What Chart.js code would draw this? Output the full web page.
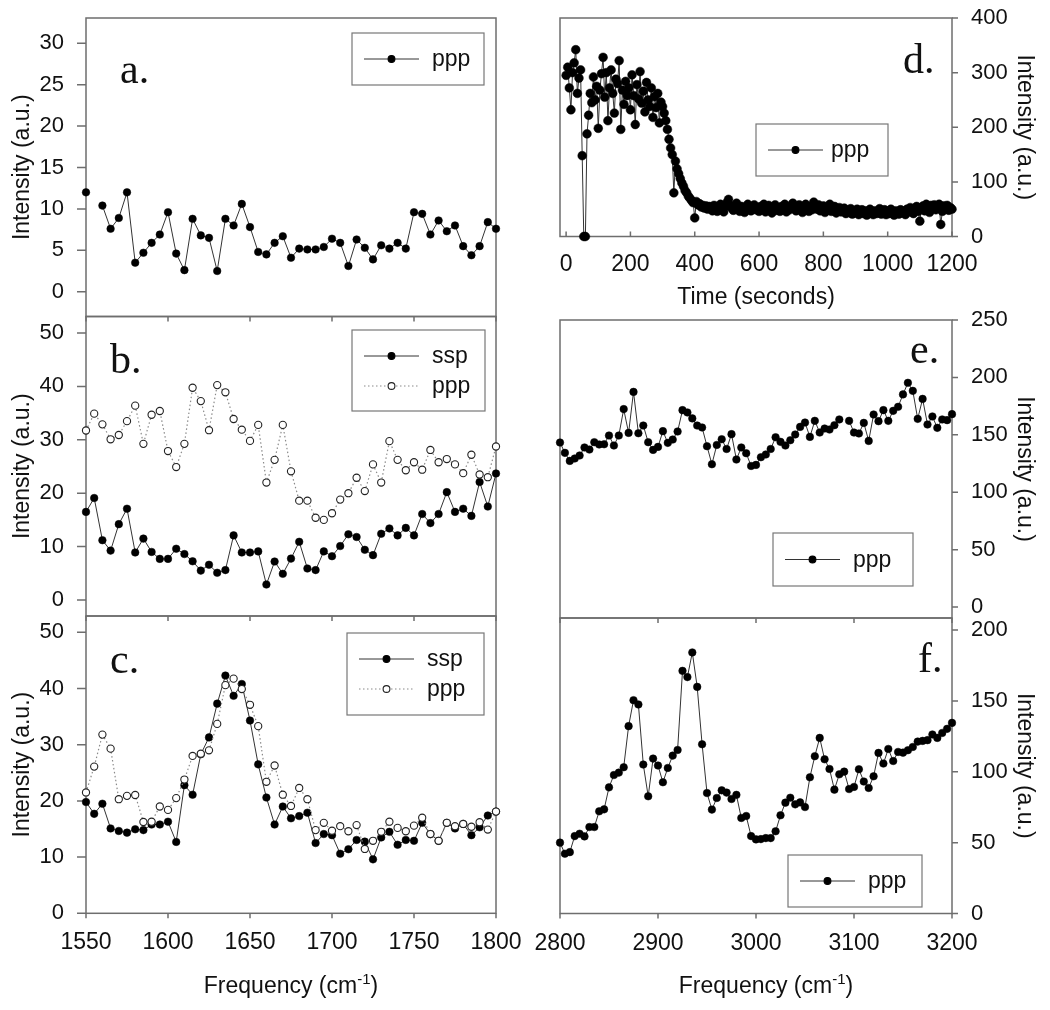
<!DOCTYPE html>
<html>
<head>
<title>SFG spectra and time trace</title>
<script src="https://cdn.jsdelivr.net/npm/chart.js"></script>
<style>
  body { margin: 0; background: #fff; }
  #wrap { position: relative; width: 1050px; height: 1010px; }
  canvas { position: absolute; }
</style>
</head>
<body>
<div id="wrap">
  <canvas id="pa" width="530" height="330" style="left:0;top:0"></canvas>
  <canvas id="pb" width="530" height="330" style="left:0;top:300px"></canvas>
  <canvas id="pc" width="530" height="410" style="left:0;top:600px"></canvas>
  <canvas id="pd" width="530" height="320" style="left:520px;top:0"></canvas>
  <canvas id="pe" width="530" height="330" style="left:520px;top:300px"></canvas>
  <canvas id="pf" width="530" height="410" style="left:520px;top:600px"></canvas>
</div>
<script>
// ---- data ----
const leftFreq = Array.from({ length: 51 }, (_, i) => 1550 + 5 * i);
const rightFreq = Array.from({ length: 81 }, (_, i) => 2800 + 5 * i);

const aPpp = [12.0, null, 10.4, 7.6, 8.9, 12.0, 3.5, 4.7, 5.9, 6.9,
  9.6, 4.6, 2.6, 8.8, 6.8, 6.5, 2.5, 8.8, 8.0, 10.6,
  7.8, 4.8, 4.5, 5.9, 6.7, 4.1, 5.2, 5.1, 5.1, 5.4,
  6.4, 5.9, 3.1, 6.3, 5.3, 3.9, 5.6, 5.2, 5.9, 5.2,
  9.6, 9.4, 6.9, 8.6, 7.3, 8.0, 5.5, 4.4, 5.5, 8.4,
  7.6];

const bSsp = [16.5, 19.1, 11.2, 9.25, 14.2, 17.1, 8.9, 11.5, 9.0, 7.7,
  7.7, 9.6, 8.6, 7.25, 5.5, 6.6, 5.1, 5.6, 12.1, 8.9,
  8.9, 9.1, 2.9, 7.2, 4.9, 7.75, 10.9, 5.9, 5.6, 9.1,
  8.2, 10.1, 12.3, 11.8, 9.4, 8.4, 12.4, 13.4, 12.1, 13.5,
  12.1, 16.1, 14.4, 16.1, 20.2, 16.5, 17.1, 15.75, 22.1, 17.5,
  23.7];
const bPpp = [31.75, 34.9, 32.9, 30.1, 30.9, 33.5, 36.4, 29.25, 34.7, 35.4,
  27.9, 24.9, 29.25, 39.75, 37.25, 31.8, 40.25, 38.9, 33.9, 31.9,
  29.8, 32.8, 22.0, 26.25, 32.8, 24.1, 18.6, 18.6, 15.4, 15.0,
  16.25, 18.8, 20.0, 22.9, 20.4, 25.4, 22.0, 29.75, 26.25, 24.3,
  25.8, 24.4, 28.1, 25.8, 26.4, 25.4, 23.75, 27.2, 23.5, 23.0,
  28.75];

const cSsp = [19.8, 17.7, 19.5, 15.1, 14.65, 14.35, 14.95, 14.8, 15.8, 15.8,
  16.3, 12.7, 22.8, 21.1, 28.3, 31.3, 37.3, 42.3, 38.7, 40.8,
  34.3, 26.5, 20.6, 15.8, 19.0, 16.9, 17.3, 17.9, 12.5, 14.1,
  13.9, 10.6, 11.4, 13.05, 12.75, 9.6, 13.5, 14.5, 12.2, 13.05,
  12.9, 16.1, 14.1, 12.9, 16.1, 15.1, 15.9, 13.9, 15.3, 17.4,
  18.1];
const cPpp = [21.5, 26.1, 31.8, 29.3, 20.3, 20.9, 21.05, 16.25, 16.3, 19.0,
  18.4, 20.5, 23.8, 28.0, 28.4, 29.0, 33.7, 40.6, 41.75, 39.9,
  37.1, 33.3, 23.4, 26.3, 21.1, 19.1, 22.3, 20.3, 14.8, 16.1,
  14.7, 15.5, 14.6, 15.7, 11.45, 12.9, 14.5, 16.3, 15.2, 14.6,
  15.6, 17.0, 14.1, 12.9, 16.1, 15.5, 15.9, 15.4, 16.2, 14.9,
  18.1];

// time trace, one reading every 5 s
const dPpp = [295, 310, 272, 232, 300, 318, 342, 262, 290, 305,
  148, 0, 0, 188, 222, 262, 245, 292, 250, 275,
  198, 268, 298, 328, 255, 300, 212, 272, 305, 262,
  226, 288, 280, 322, 196, 268, 242, 284, 258, 272,
  232, 296, 258, 205, 278, 252, 302, 244, 266, 228,
  282, 250, 238, 272, 218, 256, 236, 262, 208, 246,
  238, 226, 212, 196, 178, 162, 150, 80, 138, 124,
  115, 106, 98, 92, 84, 80, 74, 70, 66, 62,
  34, 64, 58, 60, 54, 57, 52, 56, 50, 55,
  53, 47, 57, 51, 46, 54, 59, 50, 45, 55,
  62, 68, 57, 52, 48, 56, 61, 51, 46, 55,
  53, 44, 50, 59, 54, 47, 52, 58, 49, 53,
  46, 55, 51, 59, 45, 52, 57, 50, 43, 53,
  58, 48, 52, 46, 55, 50, 59, 45, 53, 49,
  56, 61, 52, 47, 54, 58, 50, 44, 53, 59,
  51, 46, 55, 49, 63, 54, 50, 58, 47, 52,
  56, 44, 53, 49, 59, 46, 51, 55, 43, 50,
  53, 45, 49, 52, 42, 48, 44, 51, 41, 47,
  44, 50, 40, 46, 49, 42, 47, 39, 45, 50,
  44, 40, 47, 42, 46, 51, 41, 45, 49, 40,
  46, 42, 50, 44, 39, 47, 45, 41, 49, 44,
  46, 40, 50, 45, 53, 47, 42, 51, 55, 46,
  28, 51, 56, 47, 59, 52, 44, 57, 50, 58,
  49, 53, 59, 22, 46, 56, 51, 57, 48, 53,
  50];
const dTimes = dPpp.map((_, i) => 5 * i);

const ePpp = [143.3, 134.3, 127.3, 129.4, 132.0, 139.0, 137.2, 143.6, 141.6, 141.8,
  149.4, 140.7, 149.4, 172.4, 151.7, 187.4, 151.4, 158.1, 143.6, 136.9,
  139.5, 153.2, 143.0, 145.9, 152.9, 171.5, 169.5, 164.3, 158.1, 156.4,
  140.1, 124.4, 141.2, 146.2, 137.7, 150.6, 128.5, 139.0, 134.0, 122.9,
  123.8, 130.5, 132.9, 137.7, 147.9, 143.9, 140.7, 145.3, 150.3, 156.9,
  160.7, 148.2, 162.2, 152.0, 155.5, 154.6, 158.4, 163.4, null, 162.2,
  152.0, 151.2, 160.4, 144.7, 167.7, 161.9, 171.5, 162.2, 170.9, 174.4,
  185.2, 195.3, 188.3, 163.9, 181.3, 159.0, 166.0, 156.1, 163.4, 162.8,
  168.0];

const fPpp = [50.0, 42.2, 43.3, 54.6, 56.3, 54.4, 61.0, 61.0, 72.1, 73.5,
  89.0, 97.7, 99.4, 103.2, 132.2, 150.5, 147.5, 105.1, 82.7, 109.3,
  104.4, 92.6, 102.7, 111.4, 115.4, 171.2, 166.8, 184.2, 159.9, 119.4,
  85.0, 73.3, 81.5, 86.9, 85.3, 80.8, 83.7, 67.4, 68.8, 54.6,
  52.3, 52.5, 53.2, 53.2, 58.0, 69.3, 78.2, 81.7, 77.0, 78.4,
  75.1, 96.1, 111.0, 123.9, 108.8, 102.0, 87.4, 98.2, 100.1, 87.8,
  89.3, 101.8, 93.1, 88.6, 96.8, 113.3, 105.8, 116.1, 107.6, 114.0,
  113.5, 115.2, 117.5, 121.3, 121.8, 122.3, 126.3, 123.9, 127.4, 130.3,
  134.5];

// tick labels
const leftXTicks = [1550, 1600, 1650, 1700, 1750, 1800];
const rightXTicks = [2800, 2900, 3000, 3100, 3200];
const timeTicks = [0, 200, 400, 600, 800, 1000, 1200];
const aYTicks = [0, 5, 10, 15, 20, 25, 30];
const bYTicks = [0, 10, 20, 30, 40, 50];
const cYTicks = [0, 10, 20, 30, 40, 50];
const dYTicks = [0, 100, 200, 300, 400];
const eYTicks = [0, 50, 100, 150, 200, 250];
const fYTicks = [0, 50, 100, 150, 200];

// ---- drawing ----
Chart.defaults.font.family = 'Arial, "Liberation Sans", Helvetica, sans-serif';
Chart.defaults.color = '#111';
const FRAME = '#6e6e6e';
const freqTitle = [{ t: 'Frequency (cm' }, { t: '-1', sup: true }, { t: ')' }];

// frame, tick marks, panel letter, boxed legend, x title
const decor = {
  id: 'decor',
  beforeDatasetsDraw(chart, args, o) {
    const { ctx, chartArea: a } = chart;
    const xs = chart.scales.x, ys = chart.scales.y;
    ctx.save();
    ctx.strokeStyle = FRAME;
    ctx.lineWidth = 1.5;
    ctx.strokeRect(a.left, a.top, a.right - a.left, a.bottom - a.top);
    ctx.beginPath();
    o.xTicks.forEach(v => {
      const px = xs.getPixelForValue(v);
      ctx.moveTo(px, a.bottom);
      ctx.lineTo(px, a.bottom + o.xTickLen);
    });
    o.yTicks.forEach(v => {
      const py = ys.getPixelForValue(v);
      const x0 = o.side === 'left' ? a.left : a.right;
      ctx.moveTo(x0, py);
      ctx.lineTo(x0 + (o.side === 'left' ? -9 : 6), py);
    });
    ctx.stroke();
    ctx.restore();
  },
  afterDraw(chart, args, o) {
    const { ctx, chartArea: a } = chart;
    ctx.save();
    ctx.fillStyle = '#111';
    ctx.textAlign = 'left';
    ctx.textBaseline = 'alphabetic';
    ctx.font = '42px "Liberation Serif", "Times New Roman", serif';
    ctx.fillText(o.letter.text, o.letter.x, o.letter.y);

    const L = o.legend;
    ctx.strokeStyle = '#777';
    ctx.lineWidth = 1.2;
    ctx.strokeRect(L.x, L.y, L.w, L.h);
    ctx.font = '23px Arial, "Liberation Sans", sans-serif';
    ctx.textBaseline = 'middle';
    L.rows.forEach(r => {
      const ds = chart.data.datasets[r.ds];
      ctx.save();
      ctx.strokeStyle = ds.borderColor;
      ctx.lineWidth = ds.borderWidth;
      ctx.setLineDash(ds.borderDash || []);
      ctx.beginPath();
      ctx.moveTo(L.x + 12, r.y);
      ctx.lineTo(L.x + 67, r.y);
      ctx.stroke();
      ctx.setLineDash([]);
      ctx.beginPath();
      ctx.arc(L.x + 39.5, r.y, 3.4, 0, Math.PI * 2);
      ctx.fillStyle = ds.pointBackgroundColor;
      ctx.fill();
      ctx.strokeStyle = ds.pointBorderColor;
      ctx.lineWidth = 1.1;
      ctx.stroke();
      ctx.restore();
      ctx.fillText(ds.label, L.x + (L.textDx || 80), r.y + 1);
    });

    if (o.xTitle) {
      const big = '23px Arial, "Liberation Sans", sans-serif';
      const small = '15px Arial, "Liberation Sans", sans-serif';
      const parts = o.xTitle.parts;
      let w = 0;
      parts.forEach(p => { ctx.font = p.sup ? small : big; w += ctx.measureText(p.t).width; });
      let x = (a.left + a.right) / 2 - w / 2 + (o.xTitle.dx || 0);
      ctx.textBaseline = 'alphabetic';
      parts.forEach(p => {
        ctx.font = p.sup ? small : big;
        ctx.fillText(p.t, x, o.xTitle.y + (p.sup ? -9 : 0));
        x += ctx.measureText(p.t).width;
      });
    }
    ctx.restore();
  }
};

const solid = (label, data, r = 3.8) => ({
  label, data, borderColor: '#333', borderWidth: 1, tension: 0,
  pointRadius: r, pointBackgroundColor: '#000', pointBorderColor: '#000',
  pointBorderWidth: 0.5, clip: false, order: 1
});
const dotted = (label, data) => ({
  label, data, borderColor: '#8a8a8a', borderWidth: 1.2, borderDash: [1.5, 2.5], tension: 0,
  pointRadius: 3.6, pointBackgroundColor: '#fff', pointBorderColor: '#222',
  pointBorderWidth: 1.1, clip: false, order: 0
});

function panel(id, p) {
  const left = p.side === 'left';
  return new Chart(document.getElementById(id), {
    type: 'line',
    data: { labels: p.labels, datasets: p.datasets },
    plugins: [decor],
    options: {
      responsive: false,
      animation: false,
      events: [],
      layout: { padding: p.padding },
      plugins: {
        legend: { display: false },
        tooltip: { enabled: false },
        decor: {
          side: p.side, xTicks: p.xTicks, yTicks: p.yTicks, xTickLen: p.xTickLen,
          letter: p.letter, legend: p.legend, xTitle: p.xTitle
        }
      },
      scales: {
        x: {
          type: 'linear', min: p.xMin, max: p.xMax,
          display: p.showX,
          grid: { display: false }, border: { display: false },
          ticks: {
            color: '#111', font: { size: 23 }, padding: p.xPad || 0,
            maxRotation: 0, autoSkip: false, callback: v => String(v)
          },
          afterBuildTicks: s => { s.ticks = p.xTicks.map(v => ({ value: v })); },
          afterFit: s => {
            if (p.showX) s.height = p.xHeight;
            s.paddingLeft = 0;
            s.paddingRight = 0;
          }
        },
        y: {
          position: p.side, min: p.yMin, max: p.yMax,
          grid: { display: false }, border: { display: false },
          ticks: { color: '#111', font: { size: 22 }, padding: left ? 14 : 11, callback: v => String(v) },
          afterBuildTicks: s => { s.ticks = p.yTicks.map(v => ({ value: v })); },
          afterFit: s => { s.width = left ? 86 : 98; s.paddingTop = 0; s.paddingBottom = 0; },
          title: {
            display: true, text: 'Intensity (a.u.)', color: '#111',
            font: { size: 23 }, padding: { top: left ? 9 : 12, bottom: 0 }
          }
        }
      }
    }
  });
}

panel('pa', {
  labels: leftFreq, datasets: [solid('ppp', aPpp)],
  side: 'left', yMin: -3, yMax: 33.06, yTicks: aYTicks,
  xMin: 1550, xMax: 1800, xTicks: leftXTicks, xTickLen: 5, showX: false,
  padding: { left: 0, top: 18, right: 34, bottom: 13.5 },
  letter: { text: 'a.', x: 120, y: 83 },
  legend: { x: 352, y: 33, w: 132, h: 52, rows: [{ ds: 0, y: 59 }] }
});

panel('pb', {
  labels: leftFreq, datasets: [solid('ssp', bSsp), dotted('ppp', bPpp)],
  side: 'left', yMin: -3, yMax: 53.1, yTicks: bYTicks,
  xMin: 1550, xMax: 1800, xTicks: leftXTicks, xTickLen: 5, showX: false,
  padding: { left: 0, top: 16.5, right: 34, bottom: 14 },
  letter: { text: 'b.', x: 110, y: 73 },
  legend: { x: 352, y: 30, w: 133, h: 81, rows: [{ ds: 0, y: 56 }, { ds: 1, y: 86 }] }
});

panel('pc', {
  labels: leftFreq, datasets: [solid('ssp', cSsp), dotted('ppp', cPpp)],
  side: 'left', yMin: 0, yMax: 52.9, yTicks: cYTicks,
  xMin: 1550, xMax: 1800, xTicks: leftXTicks, xTickLen: 5,
  showX: true, xHeight: 96.7, xPad: 8,
  padding: { left: 0, top: 16, right: 34, bottom: 0 },
  letter: { text: 'c.', x: 110, y: 73 },
  legend: { x: 347, y: 33, w: 137, h: 82, rows: [{ ds: 0, y: 59 }, { ds: 1, y: 89 }] },
  xTitle: { parts: freqTitle, y: 393 }
});

panel('pd', {
  labels: dTimes, datasets: [solid('ppp', dPpp, 4.4)],
  side: 'right', yMin: 0, yMax: 400, yTicks: dYTicks,
  xMin: -19, xMax: 1200, xTicks: timeTicks, xTickLen: -5,
  showX: true, xHeight: 83.5, xPad: 6,
  padding: { left: 40, top: 18, right: 0, bottom: 0 },
  letter: { text: 'd.', x: 383, y: 73 },
  legend: { x: 236, y: 124, w: 132, h: 52, textDx: 75, rows: [{ ds: 0, y: 150 }] },
  xTitle: { parts: [{ t: 'Time (seconds)' }], y: 304 }
});

panel('pe', {
  labels: rightFreq, datasets: [solid('ppp', ePpp)],
  side: 'right', yMin: -9.5, yMax: 250, yTicks: eYTicks,
  xMin: 2800, xMax: 3200, xTicks: rightXTicks, xTickLen: 5, showX: false,
  padding: { left: 40, top: 20, right: 0, bottom: 12 },
  letter: { text: 'e.', x: 390, y: 63 },
  legend: { x: 253, y: 233, w: 140, h: 53, rows: [{ ds: 0, y: 259.5 }] }
});

panel('pf', {
  labels: rightFreq, datasets: [solid('ppp', fPpp)],
  side: 'right', yMin: 0, yMax: 208.5, yTicks: fYTicks,
  xMin: 2800, xMax: 3200, xTicks: rightXTicks, xTickLen: 5,
  showX: true, xHeight: 96.5, xPad: 8,
  padding: { left: 40, top: 18, right: 0, bottom: 0 },
  letter: { text: 'f.', x: 398, y: 72 },
  legend: { x: 268, y: 255, w: 134, h: 52, rows: [{ ds: 0, y: 281 }] },
  xTitle: { parts: freqTitle, y: 393, dx: 10 }
});
</script>
</body>
</html>
